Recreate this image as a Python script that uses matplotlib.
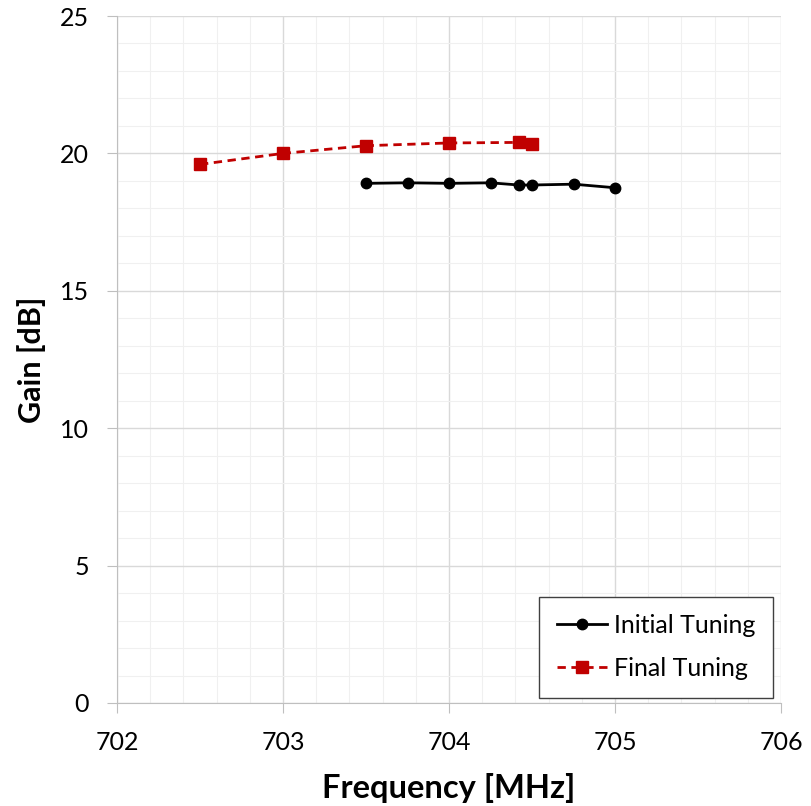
import numpy as np
import matplotlib
matplotlib.use("Agg")
import matplotlib.pyplot as plt
from matplotlib.ticker import MultipleLocator

plt.rcParams['font.family'] = ['Lato', 'DejaVu Sans']

init_freq = [703.5, 703.75, 704.0, 704.25, 704.42, 704.5, 704.75, 705.0]
init_gain = [18.91, 18.93, 18.91, 18.93, 18.85, 18.85, 18.88, 18.75]
final_freq = [702.5, 703.0, 703.5, 704.0, 704.42, 704.5]
final_gain = [19.60, 20.0, 20.28, 20.38, 20.40, 20.33]

fig = plt.figure(figsize=(8.11, 8.06), dpi=100)
ax = fig.add_axes([117 / 811, 1 - 703 / 806, 664 / 811, 687 / 806])

ax.plot(init_freq, init_gain, color="black", lw=2, marker="o", ms=7.5,
        label="Initial Tuning", zorder=3)
ax.plot(final_freq, final_gain, color="#C00000", lw=2, ls=(0, (3, 2)),
        marker="s", ms=8, label="Final Tuning", zorder=3)

ax.set_xlim(702, 706)
ax.set_ylim(0, 25)
ax.xaxis.set_major_locator(MultipleLocator(1))
ax.xaxis.set_minor_locator(MultipleLocator(0.2))
ax.yaxis.set_major_locator(MultipleLocator(5))
ax.yaxis.set_minor_locator(MultipleLocator(1))
ax.grid(which="major", color="#D9D9D9", lw=1)
ax.grid(which="minor", color="#F0F0F0", lw=0.8)
ax.set_axisbelow(True)

for s in ("top", "right"):
    ax.spines[s].set_visible(False)
for s in ("left", "bottom"):
    ax.spines[s].set_color("#BFBFBF")
ax.tick_params(which="major", length=7, color="#BFBFBF", labelsize=18)
ax.tick_params(which="minor", length=0)
ax.tick_params(axis="y", pad=13)
ax.tick_params(axis="x", pad=13)

ax.set_xlabel("Frequency [MHz]", fontsize=23.5, fontweight="bold",
              labelpad=14)
ax.set_ylabel("Gain [dB]", fontsize=22, fontweight="bold", labelpad=10)

leg = ax.legend(loc="lower right", fontsize=18, frameon=True, fancybox=False,
                edgecolor="#404040", framealpha=1, borderpad=0.7,
                handlelength=2.0, handletextpad=0.3, labelspacing=0.8,
                borderaxespad=0, bbox_to_anchor=(0.988, 0.008))
leg.get_frame().set_linewidth(1)

fig.savefig("out.png", dpi=100)
